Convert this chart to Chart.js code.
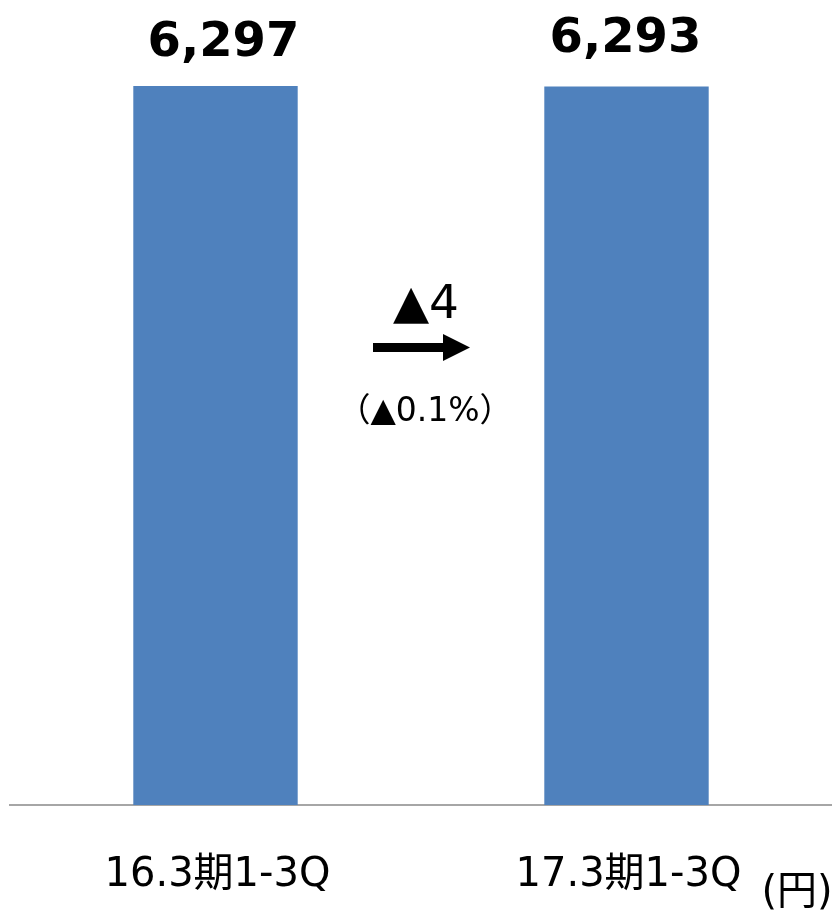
<!DOCTYPE html>
<html>
<head>
<meta charset="utf-8">
<script src="https://cdn.jsdelivr.net/npm/chart.js@4"></script>
<style>
  html, body { margin: 0; padding: 0; background: #fff; }
  #wrap { width: 832px; height: 913px; position: relative; }
</style>
</head>
<body>
<div id="wrap"><canvas id="chart"></canvas></div>
<script>
// chart data
const categories = ['16.3期1-3Q', '17.3期1-3Q'];
const values = [6297, 6293];
const diffLabel = '▲4';
const diffPctLabel = '（▲0.1%）';
const unitLabel = '(円)';

// value labels, category labels, change arrow and unit
const overlayPlugin = {
    id: 'overlay',
    afterDraw(chart) {
        const ctx = chart.ctx;
        const meta = chart.getDatasetMeta(0);
        const xScale = chart.scales.x;
        ctx.save();
        ctx.fillStyle = '#000';
        ctx.textAlign = 'center';
        ctx.textBaseline = 'alphabetic';

        // values above bars
        ctx.font = 'bold 48px "DejaVu Sans"';
        const dx = [8, -1];
        const baseY = [56, 52];
        meta.data.forEach((bar, i) => {
            ctx.fillText(values[i].toLocaleString('en-US'), bar.x + dx[i], baseY[i]);
        });

        // category labels under the axis
        ctx.font = '40px "DejaVu Sans", "Noto Sans CJK JP"';
        categories.forEach((c, i) => {
            ctx.fillText(c, xScale.getPixelForValue(i) + 2, 886);
        });

        // change between the two bars
        const midX = (meta.data[0].x + meta.data[1].x) / 2;
        ctx.font = '47px "DejaVu Sans"';
        ctx.fillText(diffLabel, midX + 5, 318);

        // arrow
        ctx.fillRect(midX - 48, 343, 72, 9);
        ctx.beginPath();
        ctx.moveTo(midX + 22, 334);
        ctx.lineTo(midX + 49, 347.5);
        ctx.lineTo(midX + 22, 361);
        ctx.closePath();
        ctx.fill();

        ctx.font = '33px "DejaVu Sans", "Noto Sans CJK JP"';
        ctx.fillText(diffPctLabel, midX + 4, 421);

        // unit
        ctx.font = '40px "DejaVu Sans", "Noto Sans CJK JP"';
        ctx.fillText(unitLabel, 797, 904);
        ctx.restore();
    }
};

const ctx = document.getElementById('chart').getContext('2d');
new Chart(ctx, {
    type: 'bar',
    data: {
        labels: categories,
        datasets: [{
            data: values,
            backgroundColor: '#4f81bd',
            borderWidth: 0,
            barPercentage: 0.4,
            categoryPercentage: 1.0
        }]
    },
    options: {
        responsive: true,
        maintainAspectRatio: false,
        animation: false,
        layout: { padding: { left: 10, right: 0, top: 0, bottom: 0 } },
        plugins: {
            legend: { display: false },
            tooltip: { enabled: false }
        },
        scales: {
            x: {
                grid: { display: false },
                border: { display: true, color: '#a6a6a6', width: 2 },
                ticks: { display: false },
                afterFit(scale) { scale.height = 108; }
            },
            y: {
                display: false,
                min: 0,
                max: 7050
            }
        }
    },
    plugins: [overlayPlugin]
});
</script>
</body>
</html>
